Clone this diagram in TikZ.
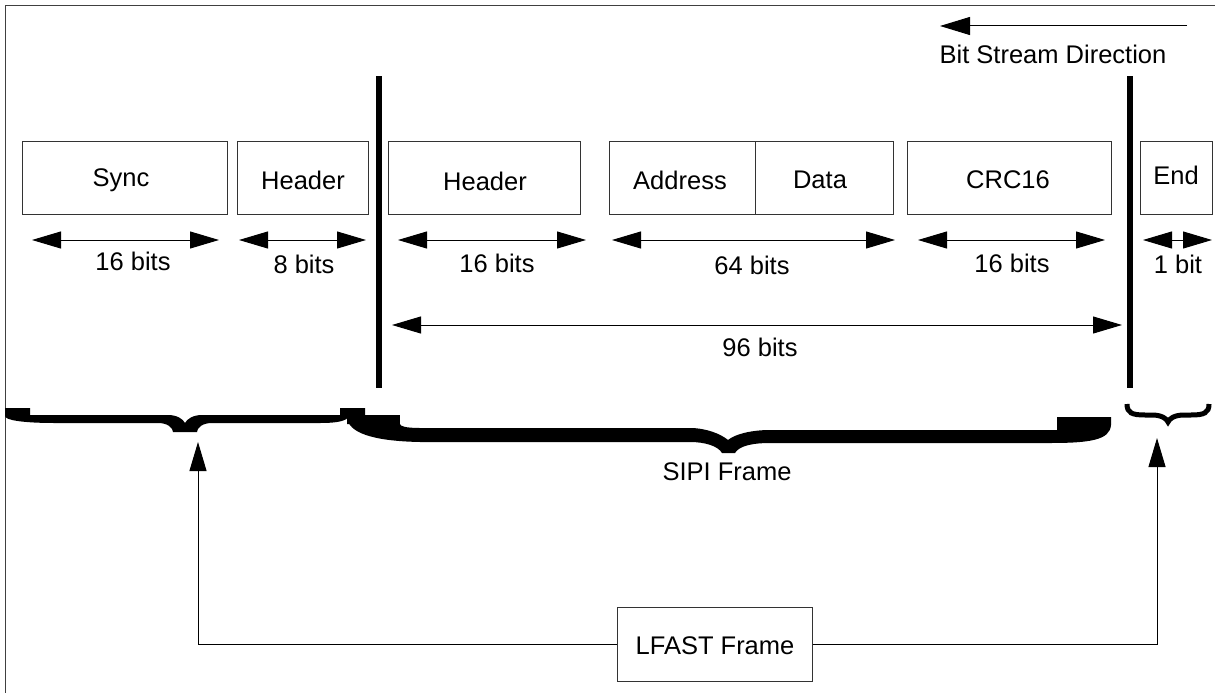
\documentclass[tikz,border=0pt]{standalone}
\usepackage{fontspec}
\setmainfont{Liberation Sans}
\usetikzlibrary{arrows.meta}
\begin{document}
\begin{tikzpicture}[x=1pt,y=-1pt,
  every node/.style={font=\fontsize{25.5}{30}\selectfont, inner sep=0pt},
  fieldbox/.style={draw=black!80, line width=1pt, minimum height=73pt},
  dim/.style={line width=1pt, {Triangle[length=29pt,width=17pt]}-{Triangle[length=29pt,width=17pt]}},
  uparrow/.style={line width=1pt, -{Triangle[length=29pt,width=17pt]}},
  bar/.style={line width=6.5pt},
  bracefill/.style={fill=black, draw=none}]
\useasboundingbox (0,0) rectangle (1215,693);
\fill[white] (0,0) rectangle (1215,693);
% frame
\draw[line width=1pt, black!75] (5,693) -- (5,6) -- (1215,6);

% bit stream direction
\coordinate (bsR) at (1187,26);
\coordinate (bsL) at (940,26);
\draw[line width=1pt, -{Triangle[length=30pt,width=18pt]}] (bsR) -- (bsL);
\node (bsd) at (1053,54) {Bit Stream Direction};

% thick bars
\coordinate (b1t) at (379,76); \coordinate (b1b) at (379,388);
\coordinate (b2t) at (1130,76); \coordinate (b2b) at (1130,388);
\draw[bar] (b1t) -- (b1b);
\draw[bar] (b2t) -- (b2b);

% boxes
\node[fieldbox, minimum width=205pt] (sync) at (124.5,177.5) {};
\node at (121,180) {Sync};
\node[fieldbox, minimum width=131pt] (hdr1) at (302.5,177.5) {};
\node at (303,180) {Header};
\node[fieldbox, minimum width=192pt] (hdr2) at (484,177.5) {};
\node at (485,181) {Header};
\node[fieldbox, minimum width=146pt] (addr) at (682,177.5) {};
\node at (680,180) {Address};
\node[fieldbox, minimum width=138pt] (data) at (824,177.5) {};
\node at (820,180) {Data};
\node[fieldbox, minimum width=204pt] (crc) at (1009,177.5) {};
\node at (1008,180) {CRC16};
\node[fieldbox, minimum width=72pt] (endb) at (1176,177.5) {};
\node at (1176,175) {End};

% dimension arrows
\coordinate (s1) at (32,240); \coordinate (s2) at (219,240);
\draw[dim] (s1) -- (s2);
\node (l16a) at (133,261) {16 bits};
\coordinate (h1) at (239,240); \coordinate (h2) at (366,240);
\draw[dim] (h1) -- (h2);
\node (l8) at (304,264) {8 bits};
\coordinate (g1) at (398,240); \coordinate (g2) at (586,240);
\draw[dim] (g1) -- (g2);
\node (l16b) at (497,263) {16 bits};
\coordinate (a1) at (612,240); \coordinate (a2) at (895,240);
\draw[dim] (a1) -- (a2);
\node (l64) at (752,265) {64 bits};
\coordinate (c1) at (918,240); \coordinate (c2) at (1105,240);
\draw[dim] (c1) -- (c2);
\node (l16c) at (1012,263) {16 bits};
\coordinate (e1) at (1143,240); \coordinate (e2) at (1212,240);
\draw[dim] (e1) -- (e2);
\node (l1) at (1178,264) {1 bit};
\coordinate (n1) at (392,325); \coordinate (n2) at (1122,325);
\draw[dim] (n1) -- (n2);
\node (l96) at (760,347) {96 bits};

% left brace
\fill[bracefill] (5,408) -- (30,408) -- (30,415) -- (168,415)
  .. controls (177,415) and (183,419) .. (185,423)
  .. controls (187,419) and (193,415) .. (202,415) -- (340,415) -- (340,408) -- (365,408) -- (365,416)
  -- (350,416) .. controls (346,421) and (338,423) .. (320,423) -- (212,423)
  .. controls (202,423) and (197,428) .. (197,432) -- (173,432)
  .. controls (173,428) and (168,423) .. (158,423) -- (55,423)
  .. controls (22,423) and (5,420) .. (5,416) -- cycle;

% SIPI brace
\fill[bracefill] (347,415) rectangle (400,424);
\fill[bracefill] (347,418) .. controls (349,432) and (370,441) .. (420,442) -- (690,442)
  .. controls (705,442) and (718,446) .. (722,453) -- (735,453)
  .. controls (739,446) and (752,443) .. (770,443) -- (1050,443)
  .. controls (1090,443) and (1110,440) .. (1111,425) -- (1111,417) -- (1057,417)
  -- (1057,430) -- (770,430)
  .. controls (752,430) and (735,434) .. (728,440)
  .. controls (721,434) and (706,428) .. (690,428) -- (420,428)
  .. controls (405,428) and (400,426) .. (400,424) -- (347,424) -- cycle;
\node (sipi) at (727,472) {SIPI Frame};

% End brace
\draw[line width=5pt] (1127,404) .. controls (1127,413) and (1132,415) .. (1145,415) -- (1152,415)
  .. controls (1162,415) and (1167,419) .. (1168,422)
  .. controls (1169,419) and (1174,415) .. (1184,415) -- (1191,415)
  .. controls (1204,415) and (1209,413) .. (1209,404);

% LFAST frame
\node[draw=black!80, line width=1pt, minimum width=195pt, minimum height=74pt] (lfast) at (714.5,644) {};
\node at (715,646) {LFAST Frame};
\coordinate (lt) at (198,442);
\coordinate (rt) at (1157,438);
\draw[uparrow] (lfast.west) -| (lt);
\draw[uparrow] (lfast.east) -| (rt);
\end{tikzpicture}
\end{document}
